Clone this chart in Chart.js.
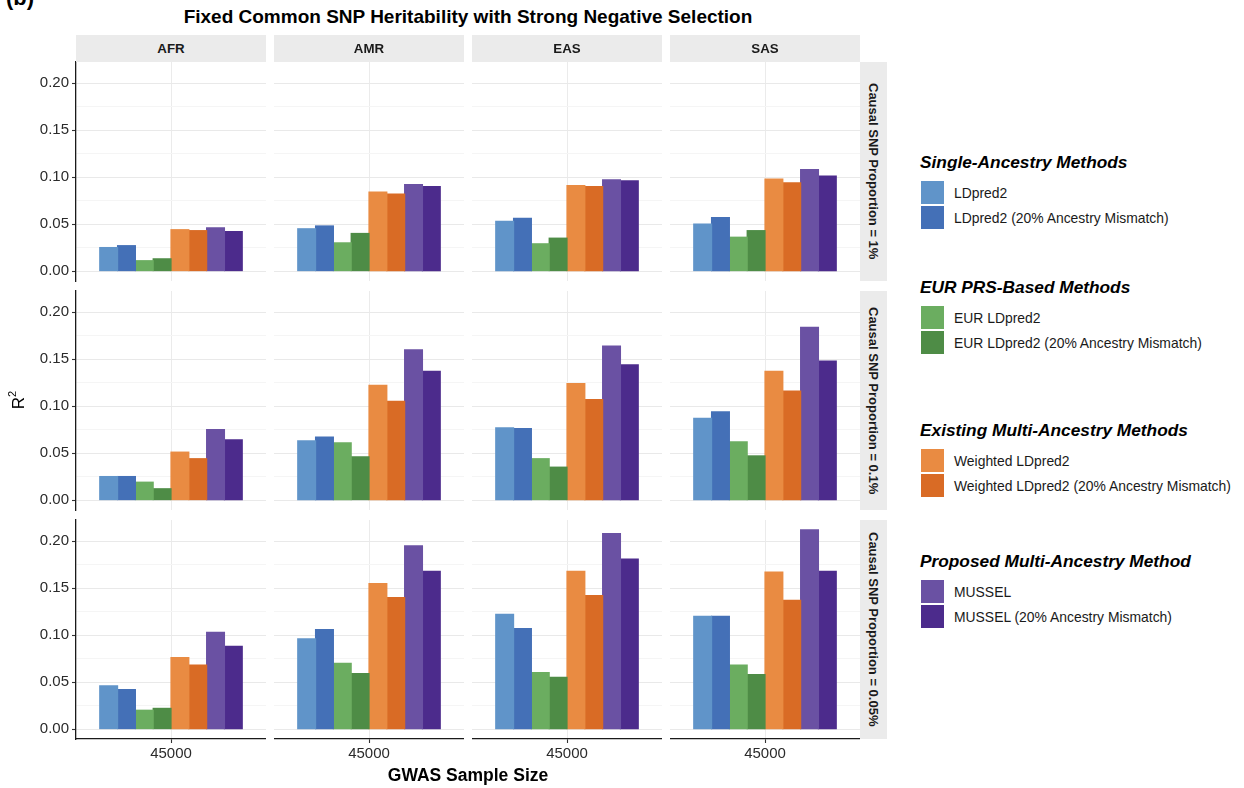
<!DOCTYPE html>
<html>
<head>
<meta charset="utf-8">
<script src="https://cdn.jsdelivr.net/npm/chart.js@4/dist/chart.umd.min.js"></script>
<style>
  html, body { margin: 0; padding: 0; background: #ffffff; }
  body { width: 1244px; height: 788px; position: relative; overflow: hidden;
         font-family: "Liberation Sans", Arial, Helvetica, sans-serif; color: #1a1a1a; }
  .abs { position: absolute; }
  canvas { position: absolute; }
  .strip-top { position: absolute; background: #ebebeb; display: flex; align-items: center;
               justify-content: center; font-weight: bold; font-size: 13.3px; color: #1a1a1a; }
  .strip-right { position: absolute; background: #ebebeb; display: flex; align-items: center;
                 justify-content: center; }
  .strip-right span { writing-mode: vertical-rl; font-weight: bold; font-size: 13px; color: #1a1a1a;
                      white-space: nowrap; }
  .legend-title { position: absolute; font-weight: bold; font-style: italic; font-size: 17.3px;
                  color: #000; white-space: nowrap; line-height: 20px; }
  .legend-key { position: absolute; width: 23px; height: 23px; }
  .legend-label { position: absolute; font-size: 13.9px; color: #1a1a1a; white-space: nowrap;
                  line-height: 16px; }
</style>
</head>
<body>
<div id="fig"></div>
<script>
// ---- data -------------------------------------------------------------
const ancestries = ['AFR', 'AMR', 'EAS', 'SAS'];
const causalProportions = ['Causal SNP Proportion = 1%', 'Causal SNP Proportion = 0.1%', 'Causal SNP Proportion = 0.05%'];
const sampleSizes = ['45000'];

const methods = [
  'LDpred2', 'LDpred2 (20% Ancestry Mismatch)',
  'EUR LDpred2', 'EUR LDpred2 (20% Ancestry Mismatch)',
  'Weighted LDpred2', 'Weighted LDpred2 (20% Ancestry Mismatch)',
  'MUSSEL', 'MUSSEL (20% Ancestry Mismatch)'
];
const methodGroups = [
  'Single-Ancestry Methods', 'EUR PRS-Based Methods',
  'Existing Multi-Ancestry Methods', 'Proposed Multi-Ancestry Method'
];
const methodColors = [
  '#6094c9', '#4470b7',
  '#6bad60', '#4e8c46',
  '#e98b42', '#d96b25',
  '#6a51a3', '#4c2b8c'
];

// R^2 per ancestry (AFR, AMR, EAS, SAS); values follow the order of `methods`
const r2Causal1pct = [
  [0.025, 0.027, 0.011, 0.013, 0.044, 0.043, 0.046, 0.042],
  [0.045, 0.048, 0.030, 0.040, 0.084, 0.082, 0.092, 0.090],
  [0.053, 0.056, 0.029, 0.035, 0.091, 0.090, 0.097, 0.096],
  [0.050, 0.057, 0.036, 0.043, 0.098, 0.094, 0.108, 0.101]
];
const r2Causal01pct = [
  [0.025, 0.025, 0.019, 0.012, 0.051, 0.044, 0.075, 0.064],
  [0.063, 0.067, 0.061, 0.046, 0.122, 0.105, 0.160, 0.137],
  [0.077, 0.076, 0.044, 0.035, 0.124, 0.107, 0.164, 0.144],
  [0.087, 0.094, 0.062, 0.047, 0.137, 0.116, 0.184, 0.148]
];
const r2Causal005pct = [
  [0.046, 0.042, 0.020, 0.022, 0.076, 0.068, 0.103, 0.088],
  [0.096, 0.106, 0.070, 0.059, 0.155, 0.140, 0.195, 0.168],
  [0.122, 0.107, 0.060, 0.055, 0.168, 0.142, 0.208, 0.181],
  [0.120, 0.120, 0.068, 0.058, 0.167, 0.137, 0.212, 0.168]
];
const yTickValues = [0.00, 0.05, 0.10, 0.15, 0.20];

// ---- layout -----------------------------------------------------------
const panelLeft0 = 76, panelWidth = 190, panelGap = 8;
const panelTops = [62, 291, 520], panelHeight = 219;
const stripSize = 27;
const yAxisSpace = 70, xAxisSpace = 34, padV = 14;
const FONT = '"Liberation Sans", Arial, Helvetica, sans-serif';

Chart.defaults.font.family = FONT;
Chart.defaults.color = '#333333';

const rows = [r2Causal1pct, r2Causal01pct, r2Causal005pct];
const allValues = rows.flat(2);
// shared y range with 5% expansion on both sides
const dataMax = Math.max(...allValues);
const yMin = -0.05 * dataMax, yMax = dataMax * 1.05;

// major breaks plus minor breaks halfway between them
const majorStep = yTickValues[1] - yTickValues[0];
const gridValues = [];
yTickValues.forEach(v => { gridValues.push({ value: v, major: true }); gridValues.push({ value: v + majorStep / 2, major: false }); });
const gridList = gridValues.filter(t => t.value >= yMin && t.value <= yMax).sort((a, b) => a.value - b.value);

const fig = document.getElementById('fig');
function el(cls, styles, html) {
  const d = document.createElement('div');
  if (cls) d.className = cls;
  Object.assign(d.style, styles);
  if (html !== undefined) d.innerHTML = html;
  fig.appendChild(d);
  return d;
}
const isMajor = v => yTickValues.some(t => Math.abs(t - v) < 1e-9);

rows.forEach((row, r) => {
  row.forEach((vals, c) => {
    const firstCol = c === 0, lastRow = r === rows.length - 1;
    const canvas = document.createElement('canvas');
    const left = panelLeft0 + c * (panelWidth + panelGap) - (firstCol ? yAxisSpace : 0);
    const top = panelTops[r] - padV;
    const w = panelWidth + (firstCol ? yAxisSpace : 0);
    const h = panelHeight + 2 * padV + (lastRow ? xAxisSpace : 0);
    canvas.width = w; canvas.height = h;
    canvas.style.left = left + 'px'; canvas.style.top = top + 'px';
    canvas.style.width = w + 'px'; canvas.style.height = h + 'px';
    fig.appendChild(canvas);

    new Chart(canvas, {
      type: 'bar',
      data: {
        labels: sampleSizes,
        datasets: methods.map((m, i) => ({
          label: m,
          data: [vals[i]],
          backgroundColor: methodColors[i],
          borderWidth: 0,
          inflateAmount: 0.6,
          categoryPercentage: 0.75,
          barPercentage: 1.0
        }))
      },
      options: {
        responsive: false,
        animation: false,
        devicePixelRatio: 1,
        layout: { padding: { top: padV, bottom: padV, left: 0, right: 0 } },
        plugins: { legend: { display: false }, tooltip: { enabled: false }, title: { display: false } },
        scales: {
          x: {
            offset: true,
            grid: { display: true, offset: false, color: '#ebebeb', lineWidth: 1,
                    drawTicks: lastRow, tickLength: 4, tickColor: '#333333', tickWidth: 1.1 },
            border: { display: lastRow, color: '#1a1a1a', width: 1.3 },
            ticks: { display: lastRow, font: { size: 15 }, color: '#2b2b2b', padding: 2, maxRotation: 0 },
            afterFit: s => { s.height = lastRow ? xAxisSpace : 0; }
          },
          y: {
            min: yMin, max: yMax,
            bounds: 'data',
            afterBuildTicks: s => { s.ticks = gridList.map(t => ({ value: t.value })); },
            grid: {
              display: true,
              color: ctx => isMajor(ctx.tick.value) ? '#e9e9e9' : '#f5f5f5',
              lineWidth: 1,
              drawTicks: firstCol,
              tickLength: 4,
              tickColor: ctx => isMajor(ctx.tick.value) ? '#333333' : 'rgba(0,0,0,0)',
              tickWidth: 1.1
            },
            border: { display: firstCol, color: '#1a1a1a', width: 1.3 },
            ticks: {
              display: firstCol,
              padding: 3,
              font: { size: 15 },
              color: '#2b2b2b',
              callback: v => isMajor(v) ? v.toFixed(2) : ''
            },
            afterFit: s => { s.width = firstCol ? yAxisSpace : 0; }
          }
        }
      }
    });
  });
});

// facet strips
ancestries.forEach((a, c) => {
  el('strip-top', {
    left: (panelLeft0 + c * (panelWidth + panelGap)) + 'px', top: (panelTops[0] - stripSize) + 'px',
    width: panelWidth + 'px', height: stripSize + 'px'
  }, a);
});
const stripRightLeft = panelLeft0 + 4 * panelWidth + 3 * panelGap;
causalProportions.forEach((p, r) => {
  el('strip-right', {
    left: stripRightLeft + 'px', top: panelTops[r] + 'px',
    width: stripSize + 'px', height: panelHeight + 'px'
  }, '<span>' + p + '</span>');
});

// titles
el('abs', { left: '6px', top: '-15px', fontWeight: 'bold', fontSize: '22px', color: '#000' }, '(b)');
el('abs', { left: '0px', width: '936px', top: '6px', textAlign: 'center', fontWeight: 'bold',
            fontSize: '19px', color: '#000', whiteSpace: 'nowrap' },
   'Fixed Common SNP Heritability with Strong Negative Selection');
el('abs', { left: '0px', width: '936px', top: '765px', textAlign: 'center', fontWeight: 'bold',
            fontSize: '17.5px', color: '#000', whiteSpace: 'nowrap' }, 'GWAS Sample Size');
el('abs', { left: '3px', top: '385px', width: '32px', height: '30px', display: 'flex',
            alignItems: 'center', justifyContent: 'center', transform: 'rotate(-90deg)',
            fontSize: '17px', color: '#000', whiteSpace: 'nowrap' },
   'R<span style="font-size:11px; position:relative; top:-7px">2</span>');

// legend
const legendLeft = 920;
const legendTitleCenters = [162, 287, 430, 561];
methodGroups.forEach((g, gi) => {
  const cy = legendTitleCenters[gi];
  el('legend-title', { left: legendLeft + 'px', top: (cy - 10) + 'px' }, g);
  [0, 1].forEach(k => {
    const mi = gi * 2 + k;
    const keyTop = cy + 19 + k * 25;
    el('legend-key', { left: (legendLeft + 1) + 'px', top: keyTop + 'px', background: methodColors[mi] });
    el('legend-label', { left: (legendLeft + 34) + 'px', top: (keyTop + 4) + 'px' }, methods[mi]);
  });
});
</script>
</body>
</html>
